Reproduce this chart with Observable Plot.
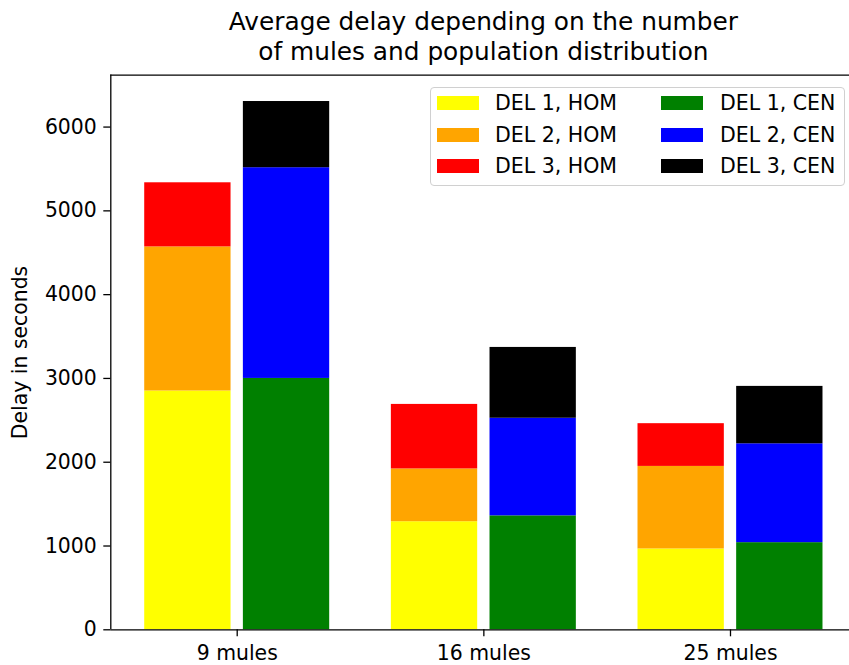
<!DOCTYPE html>
<html>
<head>
<meta charset="utf-8">
<script src="https://cdn.jsdelivr.net/npm/d3@7"></script>
<script src="https://cdn.jsdelivr.net/npm/@observablehq/plot@0.6"></script>
<style>
  body { margin: 0; background: #fff; }
  #wrap { position: relative; width: 849px; height: 665px; overflow: hidden; font-family: "DejaVu Sans", sans-serif; color: #000; }
  #title { position: absolute; left: 183.4px; width: 600px; top: 7px; text-align: center; font-size: 24.8px; line-height: 30px; }
  #chart { position: absolute; left: 0; top: 70px; }
  #legend { position: absolute; left: 430px; top: 87px; width: 415px; height: 99px; border: 1px solid #d0d0d0; border-radius: 4px; background: rgba(255,255,255,0.8); box-sizing: border-box; }
  .sw { position: absolute; width: 42px; height: 14px; }
  .lt { position: absolute; font-size: 20.5px; line-height: 24px; white-space: nowrap; }
</style>
</head>
<body>
<div id="wrap">
  <div id="title">Average delay depending on the number<br>of mules and population distribution</div>
  <div id="chart"></div>
  <div id="legend"></div>
</div>
<script>
// Categories
const groups = ["9 mules", "16 mules", "25 mules"];
// Segment values (seconds) per delay component
const hom1 = [2850, 1290, 965];
const hom2 = [1720, 630, 985];
const hom3 = [765, 770, 510];
const cen1 = [3000, 1360, 1040];
const cen2 = [2515, 1165, 1180];
const cen3 = [790, 845, 685];
// Series labels and colours
const seriesNames = ["DEL 1, HOM", "DEL 2, HOM", "DEL 3, HOM", "DEL 1, CEN", "DEL 2, CEN", "DEL 3, CEN"];
const seriesColors = ["yellow", "orange", "red", "green", "blue", "black"];
const yTicks = [0, 1000, 2000, 3000, 4000, 5000, 6000];

const barWidth = 0.35;
const offset = 0.2;
const stacks = [
  {off: -offset, series: [hom1, hom2, hom3], names: seriesNames.slice(0, 3)},
  {off: offset, series: [cen1, cen2, cen3], names: seriesNames.slice(3)}
];
const rects = [];
let maxTop = 0;
groups.forEach((g, i) => {
  stacks.forEach(st => {
    let base = 0;
    st.series.forEach((arr, k) => {
      const v = arr[i];
      rects.push({x1: i + st.off - barWidth / 2, x2: i + st.off + barWidth / 2, y1: base, y2: base + v, name: st.names[k]});
      base += v;
    });
    maxTop = Math.max(maxTop, base);
  });
});
const xMin = -offset - barWidth / 2, xMax = groups.length - 1 + offset + barWidth / 2;
const xPad = (xMax - xMin) * 0.05;
const xDomain = [xMin - xPad, xMax + xPad];
const yTop = maxTop * 1.05;

const plot = Plot.plot({
  width: 849,
  height: 595,
  marginLeft: 110.3,
  marginRight: 0,
  marginTop: 4.6,
  marginBottom: 35.7,
  style: {fontFamily: "DejaVu Sans, sans-serif", fontSize: "20.4px", color: "#000", background: "transparent", overflow: "visible"},
  x: {type: "linear", domain: xDomain, range: [110.3, 856.4]},
  y: {domain: [0, yTop]},
  color: {domain: seriesNames, range: seriesColors},
  marks: [
    Plot.rectY(rects, {x1: "x1", x2: "x2", y1: "y1", y2: "y2", fill: "name"}),
    Plot.ruleY([0], {stroke: "#000", strokeWidth: 1.3}),
    Plot.ruleY([yTop], {stroke: "#000", strokeWidth: 1.3}),
    Plot.ruleX([xDomain[0]], {stroke: "#000", strokeWidth: 1.3}),
    Plot.axisX({ticks: groups.map((g, i) => i), tickFormat: i => groups[i], tickSize: 7, tickPadding: 9, strokeWidth: 1.3, label: null}),
    Plot.axisY({ticks: yTicks, tickFormat: d => String(d), tickSize: 7, tickPadding: 7, strokeWidth: 1.3, label: "Delay in seconds", labelAnchor: "center", labelArrow: "none", labelOffset: 98})
  ]
});
document.getElementById("chart").appendChild(plot);

// Legend (two columns: HOM, CEN)
const legend = document.getElementById("legend");
const colX = [{sw: 6, tx: 64}, {sw: 230, tx: 289}];
const rowY = [15, 46.5, 78];
seriesNames.forEach((name, idx) => {
  const col = Math.floor(idx / 3), row = idx % 3;
  const sw = document.createElement("div");
  sw.className = "sw";
  sw.style.left = colX[col].sw + "px";
  sw.style.top = (rowY[row] - 7) + "px";
  sw.style.background = seriesColors[idx];
  legend.appendChild(sw);
  const t = document.createElement("div");
  t.className = "lt";
  t.style.left = colX[col].tx + "px";
  t.style.top = (rowY[row] - 12) + "px";
  t.textContent = name;
  legend.appendChild(t);
});
</script>
</body>
</html>
